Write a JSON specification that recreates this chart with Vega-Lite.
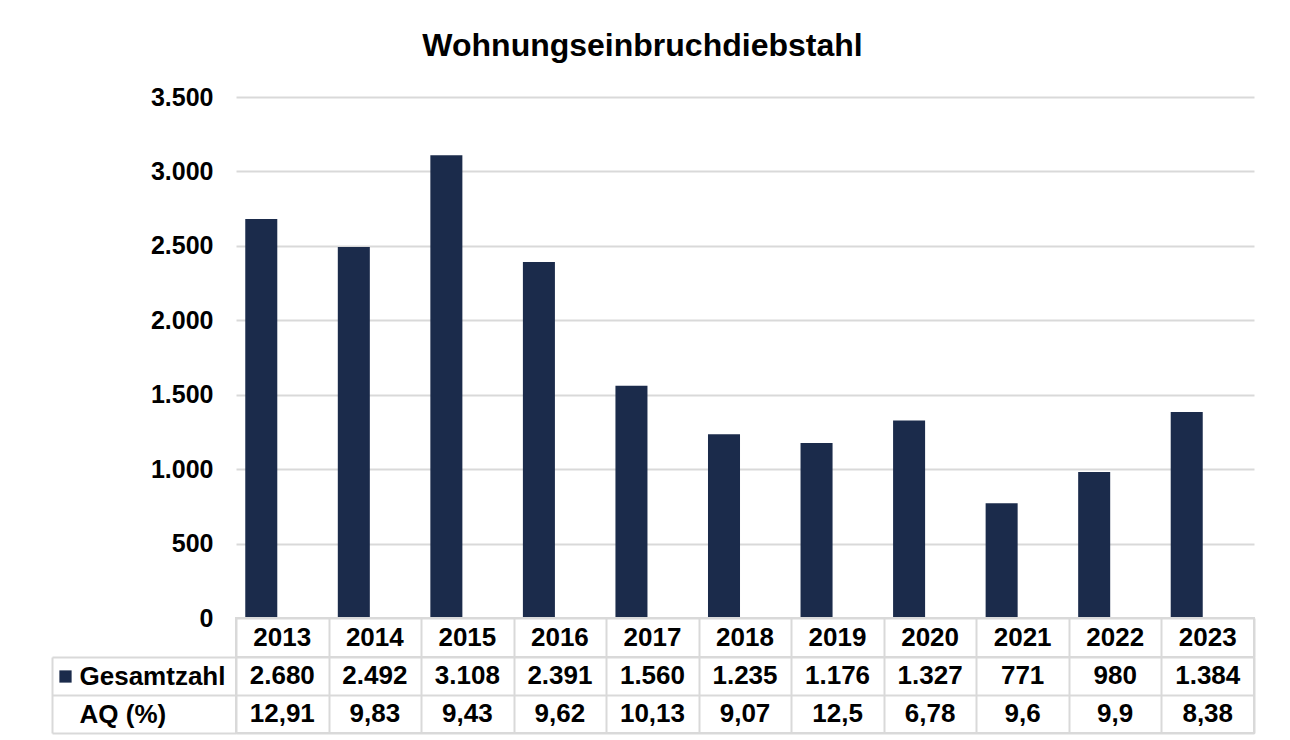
{
  "$schema": "https://vega.github.io/schema/vega-lite/v6.json",
  "background": "white",
  "autosize": {"type": "pad"},
  "padding": {"left": 50, "top": 30, "right": 10, "bottom": 0},
  "title": {
    "text": "Wohnungseinbruchdiebstahl",
    "font": "Liberation Sans",
    "fontSize": 32,
    "fontWeight": "bold",
    "color": "#000000",
    "anchor": "middle",
    "offset": 22,
    "dx": -10
  },
  "data": {
    "values": [
      {"year": "2013", "total": 2680, "aq": 12.91},
      {"year": "2014", "total": 2492, "aq": 9.83},
      {"year": "2015", "total": 3108, "aq": 9.43},
      {"year": "2016", "total": 2391, "aq": 9.62},
      {"year": "2017", "total": 1560, "aq": 10.13},
      {"year": "2018", "total": 1235, "aq": 9.07},
      {"year": "2019", "total": 1176, "aq": 12.5},
      {"year": "2020", "total": 1327, "aq": 6.78},
      {"year": "2021", "total": 771, "aq": 9.6},
      {"year": "2022", "total": 980, "aq": 9.9},
      {"year": "2023", "total": 1384, "aq": 8.38}
    ]
  },
  "spacing": 0,
  "bounds": "flush",
  "resolve": {"scale": {"x": "independent", "y": "independent"}},
  "vconcat": [
    {
      "width": 1018,
      "height": 521,
      "view": {"stroke": null},
      "mark": {"type": "bar", "width": {"band": 0.346}, "xOffset": -21},
      "encoding": {
        "x": {"field": "year", "type": "nominal", "scale": {"paddingInner": 0, "paddingOuter": 0}, "axis": null},
        "y": {
          "field": "total",
          "type": "quantitative",
          "scale": {"domain": [0, 3500], "nice": false},
          "axis": {
            "values": [0, 500, 1000, 1500, 2000, 2500, 3000, 3500],
            "format": ",.0f",
            "title": null,
            "domain": false,
            "ticks": false,
            "grid": true,
            "gridColor": "#d9d9d9",
            "gridWidth": 2,
            "labelFont": "Liberation Sans",
            "labelFontSize": 25,
            "labelFontWeight": "bold",
            "labelColor": "#000000",
            "labelPadding": 23
          }
        },
        "color": {
          "datum": "Gesamtzahl",
          "scale": {"range": ["#1b2b4b"]},
          "legend": {
            "orient": "none",
            "legendX": -177,
            "legendY": 573,
            "title": null,
            "padding": 0,
            "symbolType": "square",
            "symbolSize": 150,
            "symbolStrokeWidth": 0,
            "labelExpr": "''",
            "labelFontSize": 1
          }
        }
      }
    },
    {
      "width": 1018,
      "height": 39,
      "view": {"stroke": "#d9d9d9", "strokeWidth": 2},
      "mark": {"type": "text", "font": "Liberation Sans", "fontSize": 26, "fontWeight": "bold", "color": "#000000", "baseline": "middle"},
      "encoding": {
        "x": {
          "field": "year",
          "type": "nominal",
          "scale": {"paddingInner": 0, "paddingOuter": 0},
          "axis": {"grid": true, "tickBand": "extent", "labels": false, "ticks": false, "domain": false, "title": null, "gridColor": "#d9d9d9", "gridWidth": 2}
        },
        "text": {"field": "year", "type": "nominal"}
      }
    },
    {
      "width": 1018,
      "height": 76,
      "view": {"stroke": "#d9d9d9", "strokeWidth": 2},
      "encoding": {
        "x": {
          "field": "year",
          "type": "nominal",
          "scale": {"paddingInner": 0, "paddingOuter": 0},
          "axis": {"grid": true, "tickBand": "extent", "labels": false, "ticks": false, "domain": false, "title": null, "gridColor": "#d9d9d9", "gridWidth": 2}
        }
      },
      "layer": [
        {
          "mark": {"type": "text", "font": "Liberation Sans", "fontSize": 26, "fontWeight": "bold", "color": "#000000", "baseline": "middle"},
          "encoding": {
            "y": {
              "datum": "Gesamtzahl",
              "type": "nominal",
              "scale": {"type": "band", "domain": ["Gesamtzahl", "AQ (%)"], "paddingInner": 0, "paddingOuter": 0},
              "axis": {
                "orient": "left",
                "offset": 184,
                "title": null,
                "domain": true,
                "domainColor": "#d9d9d9",
                "domainWidth": 2,
                "ticks": true,
                "tickBand": "extent",
                "tickSize": -184,
                "tickColor": "#d9d9d9",
                "tickWidth": 2,
                "grid": true,
                "gridColor": "#d9d9d9",
                "gridWidth": 2,
                "labelAlign": "left",
                "labelBaseline": "middle",
                "labelPadding": 157,
                "labelFont": "Liberation Sans",
                "labelFontSize": 26,
                "labelFontWeight": "bold",
                "labelColor": "#000000",
                "labelLimit": 300
              }
            },
            "text": {"field": "total", "type": "quantitative", "format": ",.0f"}
          }
        },
        {
          "mark": {"type": "text", "font": "Liberation Sans", "fontSize": 26, "fontWeight": "bold", "color": "#000000", "baseline": "middle"},
          "encoding": {
            "y": {"datum": "AQ (%)", "type": "nominal"},
            "text": {"field": "aq", "type": "quantitative", "format": ",.2~f"}
          }
        }
      ]
    }
  ],
  "config": {
    "font": "Liberation Sans",
    "locale": {
      "number": {"decimal": ",", "thousands": ".", "grouping": [3], "currency": ["", " €"]}
    }
  }
}
